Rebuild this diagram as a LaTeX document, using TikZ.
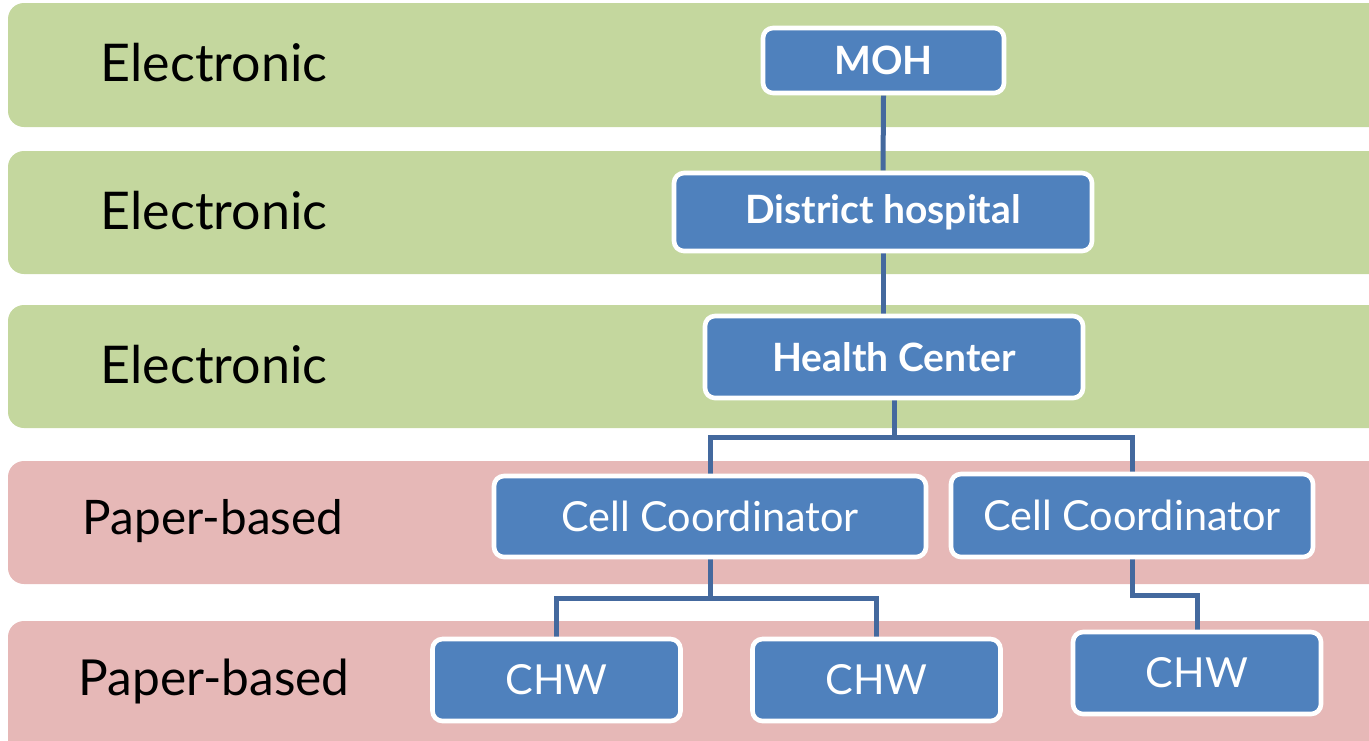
\documentclass[tikz,border=0pt]{standalone}
\usepackage{fontspec}
\setmainfont{Lato}
\pgfdeclarelayer{bands}
\pgfdeclarelayer{links}
\pgfsetlayers{bands,links,main}
\definecolor{bandgreen}{HTML}{C4D79E}
\definecolor{bandpink}{HTML}{E6B8B7}
\definecolor{boxblue}{HTML}{4F81BD}
\definecolor{linkblue}{HTML}{44699E}
\tikzset{
  band/.style={rounded corners=8pt},
  bandlabel/.style={font=\fontsize{26}{30}\selectfont, text=black, anchor=center},
  unit/.style={draw=white, line width=2.3pt, fill=boxblue, rounded corners=5pt,
    text=white, inner sep=0pt, align=center},
  boldunit/.style={unit, font=\fontsize{19.5}{23}\selectfont\bfseries},
  plainunit/.style={unit, font=\fontsize{20.7}{24}\selectfont},
  link/.style={draw=linkblue, line width=2.5pt}
}
\begin{document}
\begin{tikzpicture}[x=0.5pt,y=-0.5pt]
\useasboundingbox (0,0) rectangle (1369,740);
\clip (0,0) rectangle (1369,740);
\begin{pgfonlayer}{bands}
  \fill[band, bandgreen] (8,3) rectangle (1400,127);
  \fill[band, bandgreen] (8,151) rectangle (1400,274);
  \fill[band, bandgreen] (8,305) rectangle (1400,428);
  \fill[band, bandpink] (8,461) rectangle (1400,584);
  \fill[band, bandpink] (8,621) rectangle (1400,780);
\end{pgfonlayer}
\node[bandlabel] (l1) at (214,63) {Electronic};
\node[bandlabel] (l2) at (214,211) {Electronic};
\node[bandlabel] (l3) at (214,365) {Electronic};
\node[bandlabel, font=\fontsize{23.8}{28}\selectfont] (l4) at (213,521) {Paper-based};
\node[bandlabel, font=\fontsize{24.8}{28}\selectfont] (l5) at (214,681) {Paper-based};

\node[boldunit, minimum width=120.5pt, minimum height=32.5pt] (moh) at (883.5,60.5) {MOH};
\node[boldunit, minimum width=209pt, minimum height=39pt] (dh) at (883,212) {District hospital};
\node[boldunit, minimum width=189pt, minimum height=41pt] (hc) at (894,357) {Health Center};
\node[plainunit, minimum width=216pt, minimum height=40.5pt] (cc1) at (710,516.5) {Cell Coordinator};
\node[plainunit, minimum width=181pt, minimum height=41.5pt] (cc2) at (1132,515.5) {Cell Coordinator};
\node[plainunit, minimum width=124pt, minimum height=41pt] (chw1) at (556.5,680) {CHW};
\node[plainunit, minimum width=124pt, minimum height=41pt] (chw2) at (876.5,680) {CHW};
\node[plainunit, minimum width=124pt, minimum height=41pt] (chw3) at (1197,673) {CHW};

\coordinate (barA) at (0,437);
\coordinate (barB) at (0,598);
\coordinate (barC) at (0,595);
\begin{pgfonlayer}{links}
  \draw[link] (moh.south) -- (dh.north);
  \draw[link] (dh.south) -- (dh.south |- hc.north);
  \draw[link] (hc.south) -- (hc.south |- barA) -| (cc1.north);
  \draw[link] (hc.south |- barA) -| (cc2.north);
  \draw[link] (cc1.south) -- (cc1.south |- barB) -| (chw1.north);
  \draw[link] (cc1.south |- barB) -| (chw2.north);
  \draw[link] (cc2.south) -- (cc2.south |- barC) -| (chw3.north);
\end{pgfonlayer}
\end{tikzpicture}
\end{document}
